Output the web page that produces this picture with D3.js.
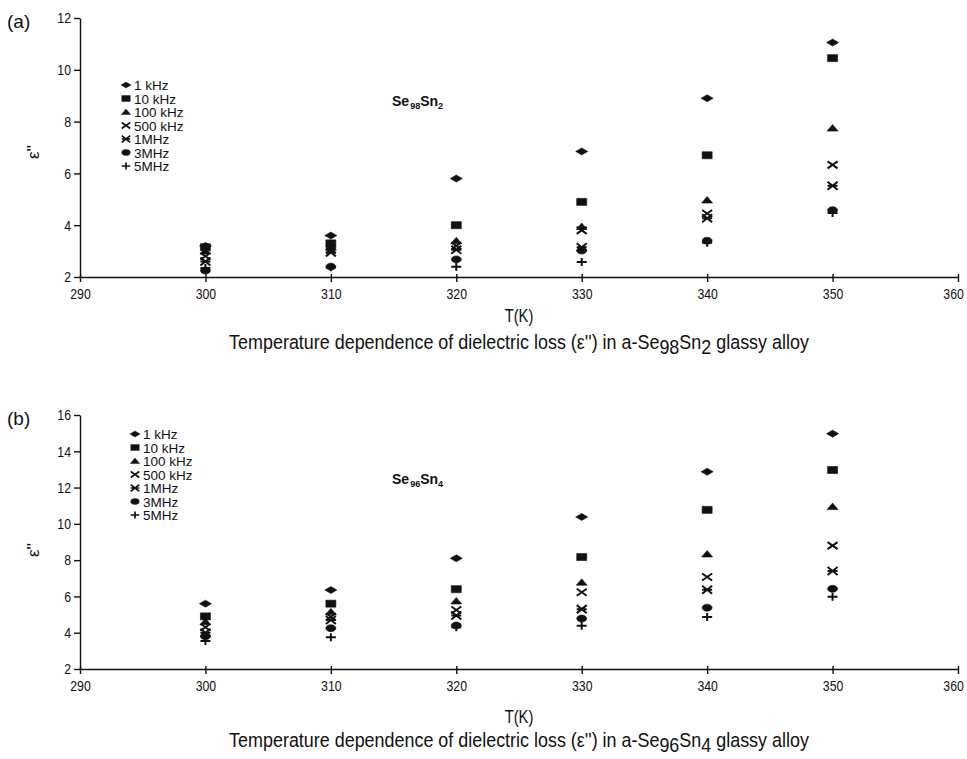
<!DOCTYPE html>
<html lang="en">
<head>
<meta charset="UTF-8">
<title>Dielectric loss vs temperature</title>
<style>
  body { margin: 0; background: #fff; }
  svg { display: block; }
  .tick text { font-family: "Liberation Sans", Arial, sans-serif; font-size: 15px; fill: #111; }
  .tick line, .domain { stroke: #111; stroke-width: 1.4px; }
  .legend text { font-family: "Liberation Sans", Arial, sans-serif; font-size: 13.5px; fill: #111; }
  .plain { font-family: "Liberation Sans", Arial, sans-serif; fill: #111; }
</style>
</head>
<body>
<svg id="chart" width="967" height="759"></svg>
<script src="https://cdnjs.cloudflare.com/ajax/libs/d3/7.8.5/d3.min.js"></script>
<script>
// ---- data ----
const temps = [300, 310, 320, 330, 340, 350];
const freqs = ["1 kHz", "10 kHz", "100 kHz", "500 kHz", "1MHz", "3MHz", "5MHz"];
const xTicks = [290, 300, 310, 320, 330, 340, 350, 360];
const yTicksA = [2, 4, 6, 8, 10, 12];
const yTicksB = [2, 4, 6, 8, 10, 12, 14, 16];

// (a) Se98Sn2
const a1k   = [3.2, 3.6, 5.8, 6.85, 8.9, 11.05];
const a10k  = [3.15, 3.3, 4.0, 4.9, 6.7, 10.45];
const a100k = [3.0, 3.15, 3.4, 3.95, 4.97, 7.75];
const a500k = [2.8, 3.05, 3.2, 3.8, 4.45, 6.33];
const a1M   = [2.6, 2.95, 3.05, 3.15, 4.27, 5.52];
const a3M   = [2.25, 2.4, 2.68, 3.02, 3.4, 4.58];
const a5M   = [2.35, 2.38, 2.4, 2.58, 3.32, 4.47];

// (b) Se96Sn4
const b1k   = [5.6, 6.35, 8.1, 10.38, 12.87, 14.97];
const b10k  = [4.9, 5.6, 6.4, 8.17, 10.77, 12.97];
const b100k = [4.6, 5.15, 5.75, 6.78, 8.34, 10.95];
const b500k = [4.3, 4.88, 5.25, 6.23, 7.07, 8.8];
const b1M   = [4.0, 4.7, 4.95, 5.3, 6.37, 7.4];
const b3M   = [3.8, 4.25, 4.4, 4.78, 5.38, 6.42];
const b5M   = [3.55, 3.75, 4.3, 4.38, 4.87, 5.98];

// ---- marker shapes (one per frequency) ----
const markers = [
  "M-6,0L0,-3.5L6,0L0,3.5Z",                       // diamond
  "M-5,-3.5H5V3.5H-5Z",                            // square
  "M-5.5,3L0,-3.5L5.5,3Z",                         // triangle
  "M-5,-3.5L5,3.5M-5,3.5L5,-3.5",                  // x
  "M-5,-4L5,4M-5,4L5,-4M-5,0H5",                   // x with bar
  "M-5,0A5,3.5 0 1,0 5,0A5,3.5 0 1,0 -5,0Z",       // ellipse
  "M-5,0H5M0,-4V4"                                 // plus
];
const stroked = [false, false, false, true, true, false, true];

// the original uses a condensed face; squeeze Liberation Sans instead
const squeeze = 0.82;

const svg = d3.select("#chart");
svg.append("rect").attr("width", 967).attr("height", 759).attr("fill", "#fff");

function narrowText(g, x, y, size, k) {
  return g.append("g").attr("transform", `translate(${x},${y}) scale(${k},1)`)
    .append("text").attr("class", "plain")
    .attr("text-anchor", "middle").attr("font-size", size);
}

function drawPanel(o) {
  const x = d3.scaleLinear().domain([290, 360]).range([80, 958]);
  const y = d3.scaleLinear().domain(o.yDomain).range([o.bottom, o.top]);
  const g = svg.append("g");

  g.append("g")
    .attr("transform", `translate(0,${o.bottom})`)
    .call(d3.axisBottom(x).tickValues(xTicks).tickSize(5).tickSizeOuter(0).tickPadding(6))
    .call(s => s.selectAll(".tick line").attr("y1", -3))
    .call(s => s.selectAll(".tick text").attr("transform", `scale(${squeeze},1)`))
    .call(s => s.selectAll(".tick text").filter(d => d === 360).attr("dx", -6));

  g.append("g")
    .attr("transform", "translate(80,0)")
    .call(d3.axisLeft(y).tickValues(o.yTicks).tickSize(6).tickSizeOuter(0).tickPadding(5))
    .call(s => s.selectAll(".tick text").attr("transform", `scale(${squeeze},1)`));

  // panel letter
  g.append("text").attr("class", "plain")
    .attr("x", 7).attr("y", o.top + 10)
    .attr("font-size", 19).text(o.letter);

  // axis titles
  g.append("text").attr("class", "plain")
    .attr("transform", `translate(39,${o.epsY}) rotate(-90)`)
    .attr("text-anchor", "middle").attr("font-size", 17).text("ε''");

  narrowText(g, 519, o.bottom + o.tLabel, 18, squeeze).text("T(K)");

  const cap = narrowText(g, 519, o.bottom + o.cLabel, 19.5, 0.92);
  cap.append("tspan").text("Temperature dependence of dielectric loss (ε'') in a-Se");
  cap.append("tspan").attr("dy", 5).text(o.sub1);
  cap.append("tspan").attr("dy", -5).text("Sn");
  cap.append("tspan").attr("dy", 5).text(o.sub2);
  cap.append("tspan").attr("dy", -5).text(" glassy alloy");

  // composition label
  const comp = g.append("text").attr("class", "plain")
    .attr("x", o.compX).attr("y", o.compY)
    .attr("font-size", 14).attr("font-weight", "bold");
  comp.append("tspan").text("Se");
  comp.append("tspan").attr("dy", 3).attr("dx", 1).attr("font-size", 9).text(o.sub1);
  comp.append("tspan").attr("dy", -3).text("Sn");
  comp.append("tspan").attr("dy", 3).attr("font-size", 9).text(o.sub2);

  // data points
  o.series.forEach((vals, i) => {
    g.append("g").selectAll("path")
      .data(vals.map((v, j) => ({ t: temps[j], v })))
      .join("path")
      .attr("d", markers[i])
      .attr("transform", d => `translate(${x(d.t)},${y(d.v)})`)
      .attr("fill", stroked[i] ? "none" : "#111")
      .attr("stroke", "#111")
      .attr("stroke-width", stroked[i] ? 2 : 0.6);
  });

  // legend
  const lg = g.append("g").attr("class", "legend");
  freqs.forEach((f, i) => {
    const ly = o.legY + i * 13.5;
    lg.append("path").attr("d", markers[i])
      .attr("transform", `translate(${o.legX},${ly}) scale(0.85)`)
      .attr("fill", stroked[i] ? "none" : "#111")
      .attr("stroke", "#111")
      .attr("stroke-width", stroked[i] ? 2 : 0.5);
    lg.append("text").attr("x", o.legX + 8).attr("y", ly + 5).text(f);
  });
}

drawPanel({
  letter: "(a)", yDomain: [2, 12], yTicks: yTicksA, top: 18, bottom: 277,
  series: [a1k, a10k, a100k, a500k, a1M, a3M, a5M],
  sub1: "98", sub2: "2", compX: 392, compY: 106, epsY: 152,
  legX: 126, legY: 85, tLabel: 45, cLabel: 72
});

drawPanel({
  letter: "(b)", yDomain: [2, 16], yTicks: yTicksB, top: 415, bottom: 669,
  series: [b1k, b10k, b100k, b500k, b1M, b3M, b5M],
  sub1: "96", sub2: "4", compX: 392, compY: 484, epsY: 550,
  legX: 135, legY: 434, tLabel: 54, cLabel: 78
});
</script>
</body>
</html>
